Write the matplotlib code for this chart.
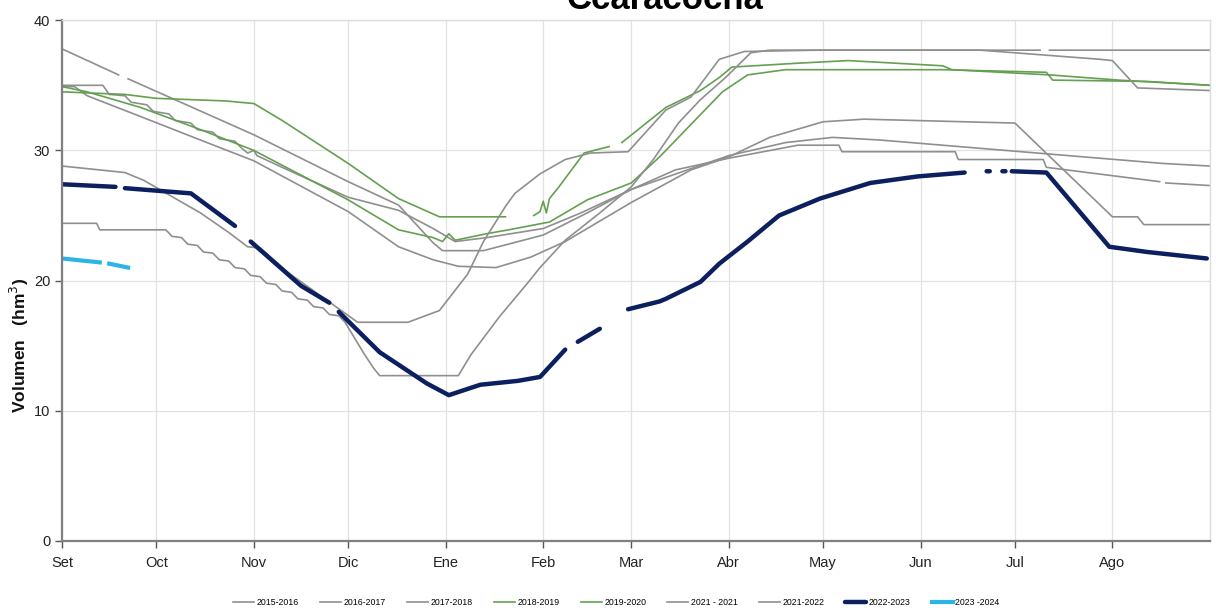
import numpy as np
import matplotlib
matplotlib.use("Agg")
import matplotlib.pyplot as plt

nan = np.nan
plt.rcParams['font.family'] = ['Liberation Sans', 'DejaVu Sans']

# -----------------------------
# Data (day counted from 1 Set, volume in hm3)
# -----------------------------
months = ["Set", "Oct", "Nov", "Dic", "Ene", "Feb", "Mar", "Abr", "May", "Jun", "Jul", "Ago"]
month_days = [0, 30, 61, 91, 122, 153, 181, 212, 242, 273, 303, 334]

d_1516 = [0, 18, 19, 21, 61, 91, 107, 118, 121, 134, 153, 167, 181, 200, 212, 230, 245, 260, 290, 320, 350, 365]
v_1516 = [37.8, 35.8, nan, 35.5, 31.2, 27.6, 25.8, 22.9, 22.3, 22.3, 23.5, 25.2, 27.0, 28.6, 29.6, 30.6, 31.0, 30.8, 30.2, 29.6, 29.0, 28.8]

d_1617 = [0, 13, 15, 20, 22, 27, 29, 34, 36, 41, 43, 48, 50, 55, 57, 59, 61, 62, 70, 91, 107, 118, 125, 135,
          153, 165, 181, 195, 212, 234, 247, 248, 284, 285, 312, 313, 349, 350, 351, 365]
v_1617 = [35.0, 35.0, 34.3, 34.2, 33.7, 33.5, 33.0, 32.8, 32.3, 32.1, 31.6, 31.4, 30.9, 30.7, 30.2, 29.8, 30.0, 29.6, 28.7, 26.4, 25.4, 24.0, 23.0, 23.3,
          24.0, 25.2, 27.0, 28.5, 29.4, 30.4, 30.4, 29.9, 29.9, 29.3, 29.3, 28.7, 27.6, nan, 27.5, 27.3]

d_1718 = [0, 4, 8, 25, 44, 61, 91, 107, 118, 126, 138, 149, 160, 181, 200, 212, 225, 242, 255, 303, 334, 342, 344, 365]
v_1718 = [34.9, 34.9, 34.2, 32.6, 30.8, 29.2, 25.3, 22.6, 21.6, 21.1, 21.0, 21.8, 23.0, 26.0, 28.5, 29.5, 31.0, 32.2, 32.4, 32.1, 24.9, 24.9, 24.3, 24.3]

d_1819 = [0, 20, 30, 52, 61, 70, 91, 107, 120, 141, 143, 146, 148, 150, 152, 153, 154, 155, 158, 166, 174, 176, 178,
          192, 203, 209, 213, 234, 250, 280, 283, 314, 336, 365]
v_1819 = [34.5, 34.3, 34.0, 33.8, 33.6, 32.3, 29.0, 26.3, 24.9, 24.9, nan, 24.9, nan, 25.0, 25.3, 26.1, 25.2, 26.3, 27.2, 29.8, 30.3, nan, 30.6,
          33.3, 34.6, 35.6, 36.4, 36.7, 36.9, 36.5, 36.2, 35.8, 35.4, 35.0]

d_1920 = [0, 8, 25, 44, 61, 91, 107, 118, 121, 123, 125, 135, 142, 155, 167, 181, 190, 200, 210, 218, 230, 280, 313, 315, 345, 365]
v_1920 = [34.9, 34.5, 33.3, 31.6, 30.0, 26.2, 23.9, 23.3, 23.0, 23.6, 23.1, 23.6, 23.9, 24.5, 26.2, 27.5, 29.5, 32.0, 34.5, 35.8, 36.2, 36.2, 36.0, 35.4, 35.3, 35.0]

d_2021 = [0, 20, 26, 44, 53, 59, 63, 72, 94, 110, 120, 129, 134, 141, 144, 152, 160, 168, 180, 192, 200, 209, 217, 240, 311, 312, 314, 365]
v_2021 = [28.8, 28.3, 27.7, 25.2, 23.7, 22.6, 22.5, 20.6, 16.8, 16.8, 17.7, 20.5, 23.0, 25.7, 26.7, 28.2, 29.3, 29.8, 29.9, 33.1, 34.1, 37.0, 37.6, 37.7, 37.7, nan, 37.7, 37.7]

d_2122 = [0, 11, 12, 33, 35, 38, 40, 43, 45, 48, 50, 53, 55, 58, 60, 63, 65, 68, 70, 73, 75, 78, 80, 83, 85, 88, 90,
          93, 96, 99, 101, 126, 130, 139, 148, 152, 160, 171, 181, 188, 196, 203, 211, 219, 225, 292, 330, 334, 342, 365]
v_2122 = [24.4, 24.4, 23.9, 23.9, 23.4, 23.3, 22.8, 22.7, 22.2, 22.1, 21.6, 21.5, 21.0, 20.9, 20.4, 20.3, 19.8, 19.7, 19.2, 19.1, 18.6, 18.5, 18.0, 17.9, 17.4, 17.3, 16.8,
          15.6, 14.4, 13.3, 12.7, 12.7, 14.3, 17.2, 19.8, 21.0, 23.1, 25.2, 27.2, 29.3, 32.1, 33.9, 35.6, 37.5, 37.7, 37.7, 37.0, 36.9, 34.8, 34.6]

d_2223 = [0, 17, 18, 20, 41, 55, 57, 60, 76, 85, 86, 88, 101, 116, 123, 133, 145, 152, 160, 162, 164, 171, 173, 180, 190, 192,
          203, 209, 218, 228, 241, 257, 272, 287, 289, 294, 295, 296, 299, 300, 301, 302, 313, 333, 345, 364]
v_2223 = [27.4, 27.2, nan, 27.1, 26.7, 24.2, nan, 23.0, 19.6, 18.3, nan, 17.6, 14.5, 12.1, 11.2, 12.0, 12.3, 12.6, 14.7, nan, 15.3, 16.3, nan, 17.8, 18.4, 18.6,
          19.9, 21.3, 23.0, 25.0, 26.3, 27.5, 28.0, 28.3, nan, 28.4, 28.4, nan, 28.4, 28.4, nan, 28.4, 28.3, 22.6, 22.2, 21.7]

d_2324 = [0, 12, 13, 15, 21]
v_2324 = [21.7, 21.4, nan, 21.3, 21.0]

# -----------------------------
# Plot
# -----------------------------
fig = plt.figure(figsize=(12.16, 6.13), dpi=100)
ax = fig.add_axes([0.051, 0.1175, 0.944, 0.8495])

gray = "#8f8f8f"
green = "#64a050"

ax.plot(d_1516, v_1516, color=gray, lw=1.2, label="2015-2016")
ax.plot(d_1617, v_1617, color=gray, lw=1.2, label="2016-2017")
ax.plot(d_1718, v_1718, color=gray, lw=1.2, label="2017-2018")
ax.plot(d_1819, v_1819, color=green, lw=1.2, label="2018-2019")
ax.plot(d_1920, v_1920, color=green, lw=1.2, label="2019-2020")
ax.plot(d_2021, v_2021, color=gray, lw=1.2, label="2021 - 2021")
ax.plot(d_2122, v_2122, color=gray, lw=1.2, label="2021-2022")
ax.plot(d_2223, v_2223, color="#0c1f5e", lw=3.2, label="2022-2023", solid_capstyle="round")
ax.plot(d_2324, v_2324, color="#2bb5e6", lw=3, label="2023 -2024")

ax.set_xlim(0, 365)
ax.set_ylim(0, 40)
ax.set_xticks(month_days)
ax.set_xticklabels(months)
ax.set_yticks([0, 10, 20, 30, 40])
ax.tick_params(axis="both", labelsize=10.5, colors="#555555", labelcolor="#222222", length=5, width=1)
ax.tick_params(axis="x", pad=6)

ax.grid(True, color="#e2e2e2", lw=0.9)
ax.set_axisbelow(True)
for side in ["left", "bottom"]:
    ax.spines[side].set_color("#808080")
    ax.spines[side].set_linewidth(1.6)
for side in ["top", "right"]:
    ax.spines[side].set_color("#dddddd")
    ax.spines[side].set_linewidth(1)

ax.set_ylabel("Volumen   (hm$^3$)", fontsize=12.5, fontweight="bold", color="#111111")
ax.yaxis.set_label_coords(-0.027, 0.375)

fig.text(0.547, 0.986, "Ccaracocha", fontsize=25, fontweight="bold", ha="center", va="baseline")

fig.legend(loc="center", bbox_to_anchor=(0.507, 0.0165), ncol=9, frameon=False,
           fontsize=6.3, handlelength=2.4, columnspacing=2.4, handletextpad=0.3)

fig.savefig("out.png", dpi=100)
